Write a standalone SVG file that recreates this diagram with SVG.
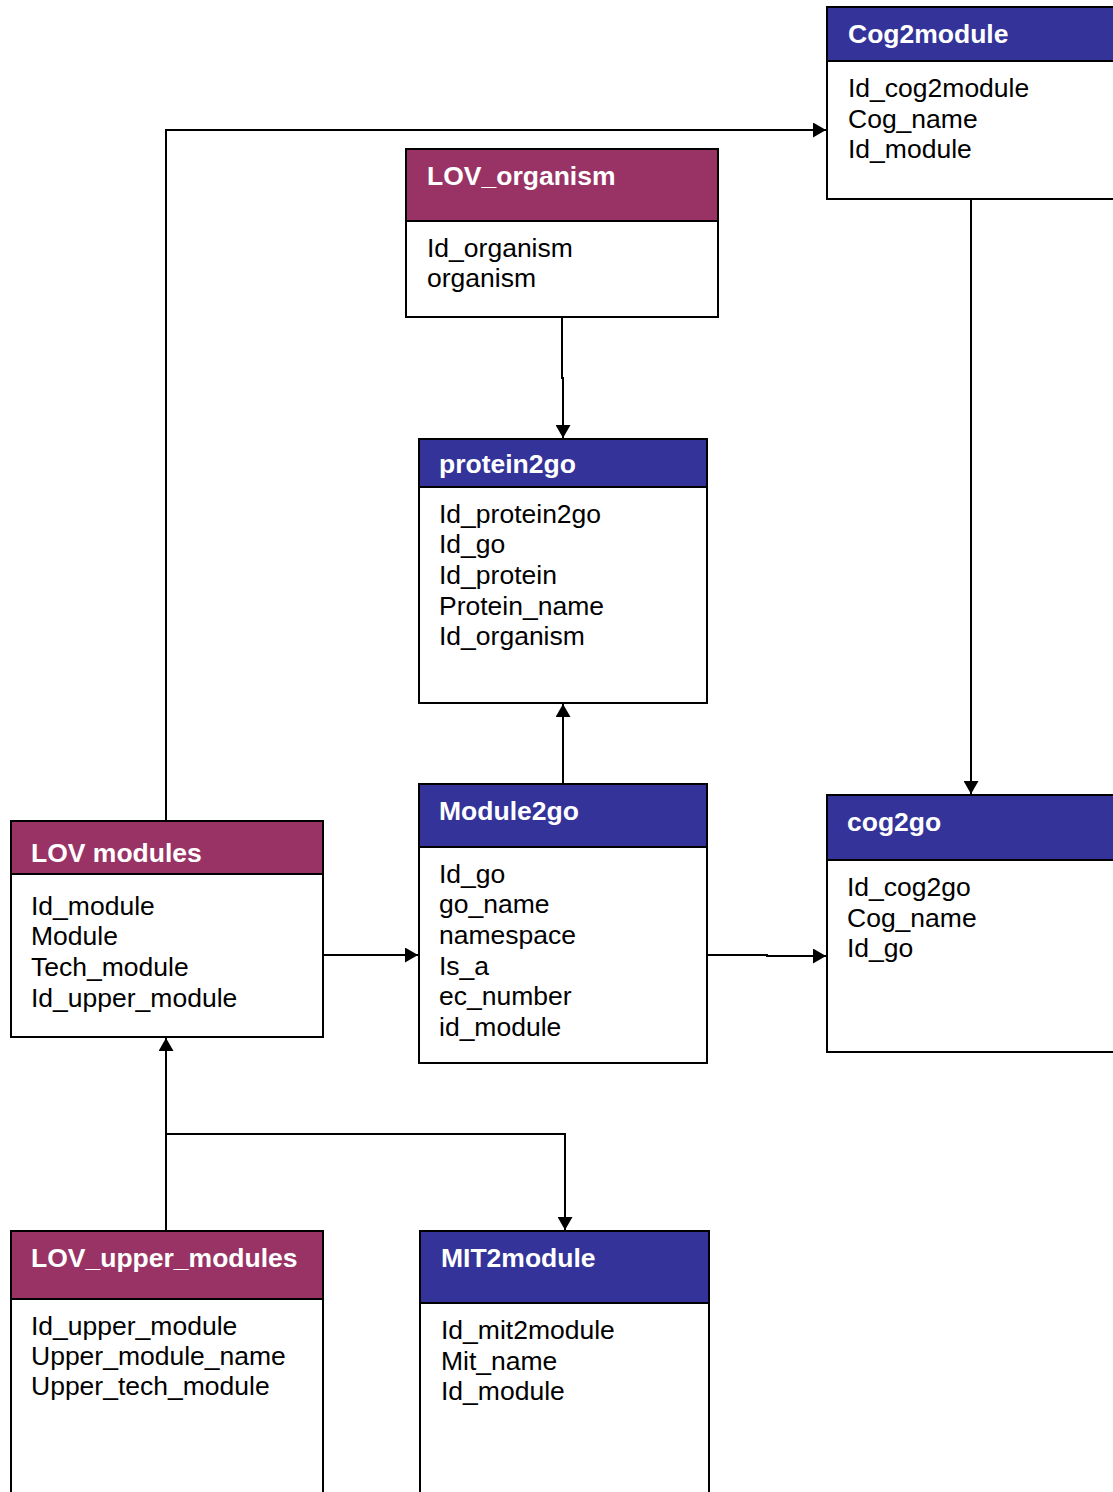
<svg xmlns="http://www.w3.org/2000/svg" width="1113" height="1492" viewBox="0 0 1113 1492">
<style>
.box{fill:#fff;stroke:#000;stroke-width:2}
.hb{fill:#333399;stroke:#000;stroke-width:2}
.hm{fill:#993366;stroke:#000;stroke-width:2}
.t{font-family:"Liberation Sans",Arial,sans-serif;font-weight:bold;font-size:26.5px;fill:#fff}
.b{font-family:"Liberation Sans",Arial,sans-serif;font-size:26.5px;fill:#000}
.c{fill:none;stroke:#000;stroke-width:2}
</style>
<defs>
<marker id="a" viewBox="0 0 13 15" refX="13" refY="7.5" markerWidth="13" markerHeight="15" markerUnits="userSpaceOnUse" orient="auto"><path d="M0,0 L13,7.5 L0,15 Z" fill="#000"/></marker>
</defs>
<rect width="1113" height="1492" fill="#fff"/>
<g id="connectors">
<path class="c" d="M166,821 V130 H826" marker-end="url(#a)"/>
<path class="c" d="M562,317 V378 H563 V438" marker-end="url(#a)"/>
<path class="c" d="M971,199 V794" marker-end="url(#a)"/>
<path class="c" d="M563,784 V704" marker-end="url(#a)"/>
<path class="c" d="M323,955 H418" marker-end="url(#a)"/>
<path class="c" d="M707,955 H767 V956 H826" marker-end="url(#a)"/>
<path class="c" d="M166,1231 V1038" marker-end="url(#a)"/>
<path class="c" d="M166,1134 H565 V1230" marker-end="url(#a)"/>
</g>
<g id="Cog2module">
<rect class="box" x="827" y="7" width="300" height="192"/>
<rect class="hb" x="827" y="7" width="300" height="54"/>
<text class="t" x="848" y="43">Cog2module</text>
<text class="b" x="848" y="97">Id_cog2module</text>
<text class="b" x="848" y="128">Cog_name</text>
<text class="b" x="848" y="158">Id_module</text>
</g>
<g id="LOV_organism">
<rect class="box" x="406" y="149" width="312" height="168"/>
<rect class="hm" x="406" y="149" width="312" height="72"/>
<text class="t" x="427" y="185">LOV_organism</text>
<text class="b" x="427" y="257">Id_organism</text>
<text class="b" x="427" y="287">organism</text>
</g>
<g id="protein2go">
<rect class="box" x="419" y="439" width="288" height="264"/>
<rect class="hb" x="419" y="439" width="288" height="48"/>
<text class="t" x="439" y="473">protein2go</text>
<text class="b" x="439" y="523">Id_protein2go</text>
<text class="b" x="439" y="553">Id_go</text>
<text class="b" x="439" y="584">Id_protein</text>
<text class="b" x="439" y="615">Protein_name</text>
<text class="b" x="439" y="645">Id_organism</text>
</g>
<g id="Module2go">
<rect class="box" x="419" y="784" width="288" height="279"/>
<rect class="hb" x="419" y="784" width="288" height="63"/>
<text class="t" x="439" y="820">Module2go</text>
<text class="b" x="439" y="883">Id_go</text>
<text class="b" x="439" y="913">go_name</text>
<text class="b" x="439" y="944">namespace</text>
<text class="b" x="439" y="975">Is_a</text>
<text class="b" x="439" y="1005">ec_number</text>
<text class="b" x="439" y="1036">id_module</text>
</g>
<g id="cog2go">
<rect class="box" x="827" y="795" width="300" height="257"/>
<rect class="hb" x="827" y="795" width="300" height="65"/>
<text class="t" x="847" y="831">cog2go</text>
<text class="b" x="847" y="896">Id_cog2go</text>
<text class="b" x="847" y="927">Cog_name</text>
<text class="b" x="847" y="957">Id_go</text>
</g>
<g id="LOV_modules">
<rect class="box" x="11" y="821" width="312" height="216"/>
<rect class="hm" x="11" y="821" width="312" height="53"/>
<text class="t" x="31" y="862">LOV  modules</text>
<text class="b" x="31" y="915">Id_module</text>
<text class="b" x="31" y="945">Module</text>
<text class="b" x="31" y="976">Tech_module</text>
<text class="b" x="31" y="1007">Id_upper_module</text>
</g>
<g id="LOV_upper_modules">
<rect class="box" x="11" y="1231" width="312" height="280"/>
<rect class="hm" x="11" y="1231" width="312" height="68"/>
<text class="t" x="31" y="1267">LOV_upper_modules</text>
<text class="b" x="31" y="1335">Id_upper_module</text>
<text class="b" x="31" y="1365">Upper_module_name</text>
<text class="b" x="31" y="1395">Upper_tech_module</text>
</g>
<g id="MIT2module">
<rect class="box" x="420" y="1231" width="289" height="280"/>
<rect class="hb" x="420" y="1231" width="289" height="72"/>
<text class="t" x="441" y="1267">MIT2module</text>
<text class="b" x="441" y="1339">Id_mit2module</text>
<text class="b" x="441" y="1370">Mit_name</text>
<text class="b" x="441" y="1400">Id_module</text>
</g>
</svg>
